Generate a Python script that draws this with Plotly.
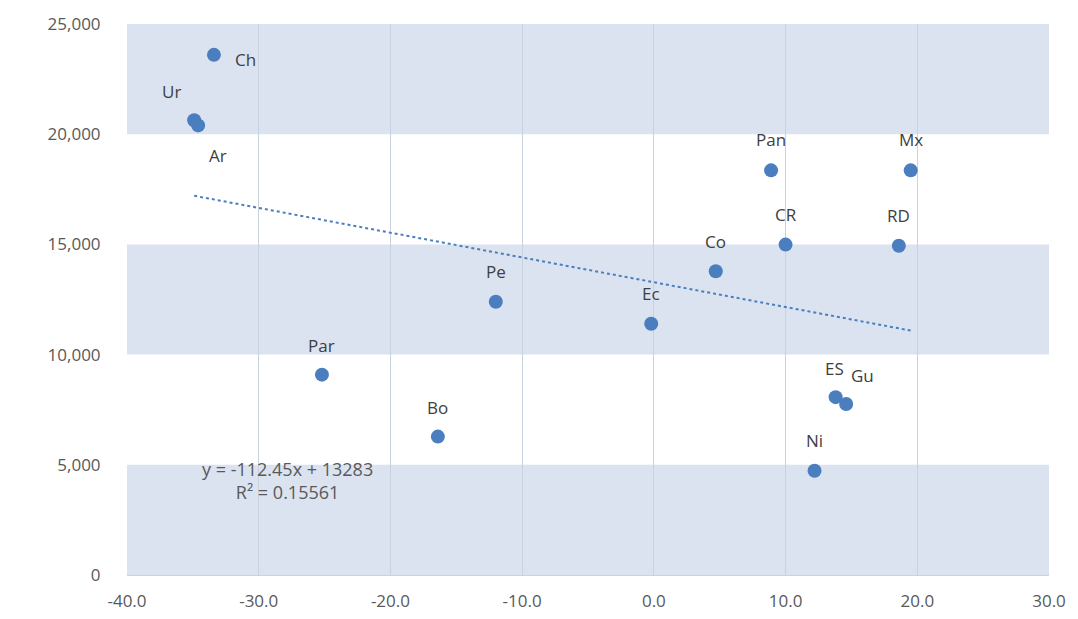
import plotly.graph_objects as go

# Data
countries = ["Ch", "Ur", "Ar", "Pan", "Mx", "CR", "RD", "Co", "Pe", "Ec",
             "Par", "Bo", "ES", "Gu", "Ni"]
x_vals = [-33.4, -34.9, -34.6, 8.9, 19.5, 10.0, 18.6, 4.7, -12.0, -0.2,
          -25.2, -16.4, 13.8, 14.6, 12.2]
y_vals = [23600, 20630, 20400, 18360, 18360, 14990, 14940, 13780, 12400, 11400,
          9090, 6280, 8070, 7760, 4730]

# Label offsets (pixels) relative to each point
label_dx = [32, -23, 20, 0, 0, 0, 0, 0, 0, 0, 0, 0, -1, 16, 0]
label_dy = [-5, 29, -30, 31, 31, 30, 30, 30, 30, 30, 29, 29, 29, 28, 30]

# Linear trend line printed on the chart
slope = -112.45
intercept = 13283
r2 = 0.15561

x_ticks = [-40, -30, -20, -10, 0, 10, 20, 30]
x_ticktext = ["-40.0", "-30.0", "-20.0", "-10.0", "0.0", "10.0", "20.0", "30.0"]
y_ticks = [0, 5000, 10000, 15000, 20000, 25000]
y_ticktext = ["0", "5,000", "10,000", "15,000", "20,000", "25,000"]
bands = [(0, 5000), (10000, 15000), (20000, 25000)]

BLUE = "#4a7ebf"
TEXT = "#595959"
FONT = "Open Sans"

fig = go.Figure()

x0, x1 = min(x_vals), max(x_vals)
fig.add_trace(go.Scatter(
    x=[x0, x1], y=[slope * x0 + intercept, slope * x1 + intercept],
    mode="lines", line=dict(color=BLUE, width=2, dash="dot"),
    hoverinfo="skip", showlegend=False))

fig.add_trace(go.Scatter(
    x=x_vals, y=y_vals, mode="markers",
    marker=dict(color=BLUE, size=14),
    text=countries, showlegend=False))

for name, xv, yv, dx, dy in zip(countries, x_vals, y_vals, label_dx, label_dy):
    fig.add_annotation(x=xv, y=yv, text=name, showarrow=False,
                       xshift=dx, yshift=dy,
                       font=dict(family=FONT, size=17, color="#404040"))

fig.add_annotation(x=-27.85, y=4280,
                   text=f"y = {slope}x + {intercept}<br>R² = {r2}",
                   showarrow=False, align="center",
                   font=dict(family=FONT, size=18, color=TEXT))

for lo, hi in bands:
    fig.add_shape(type="rect", xref="x domain", yref="y", x0=0, x1=1,
                  y0=lo, y1=hi, fillcolor="#dbe3f0", line=dict(width=0),
                  layer="below")

fig.update_layout(
    width=1060, height=603,
    margin=dict(l=119, r=19, t=16, b=36, autoexpand=False),
    paper_bgcolor="white", plot_bgcolor="white",
    font=dict(family=FONT, size=17, color=TEXT),
    xaxis=dict(range=[-40, 30], tickvals=x_ticks, ticktext=x_ticktext,
               showgrid=True, gridcolor="#c9d3df", gridwidth=1,
               zeroline=False, showline=True, linecolor="#c9d3df",
               automargin=False,
               ticks="outside", ticklen=11, tickcolor="rgba(0,0,0,0)",
               tickfont=dict(family=FONT, size=17, color=TEXT)),
    yaxis=dict(range=[0, 25000], tickvals=y_ticks, ticktext=y_ticktext,
               showgrid=False, zeroline=False, showline=False,
               automargin=False,
               ticks="outside", ticklen=22, tickcolor="rgba(0,0,0,0)",
               tickfont=dict(family=FONT, size=17, color=TEXT)),
)

fig.write_html("out.html")
